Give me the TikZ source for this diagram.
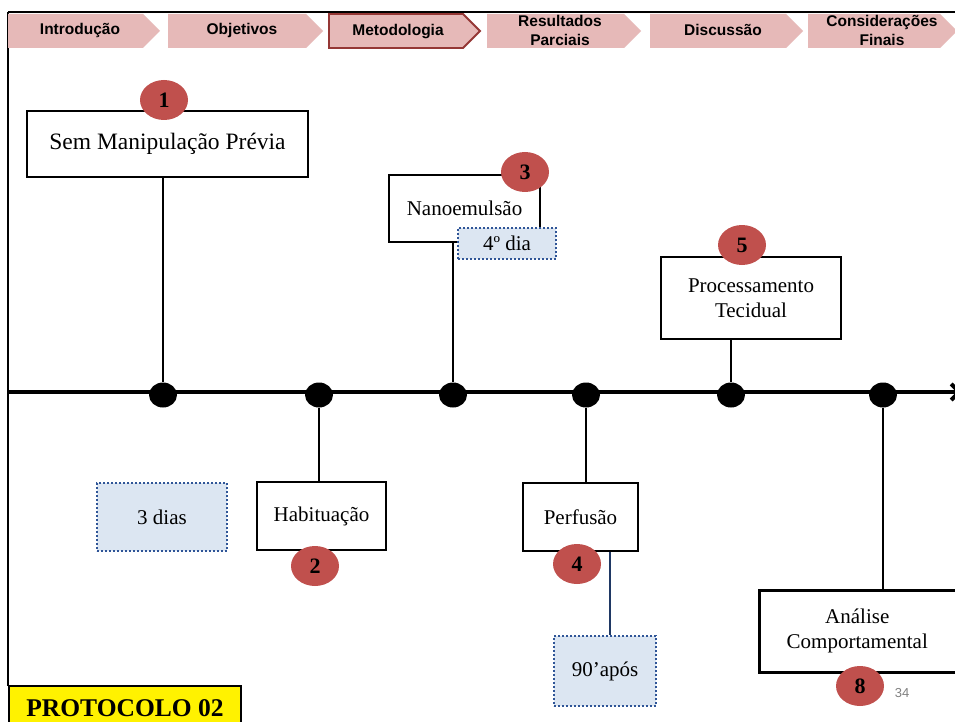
\documentclass[tikz,border=0pt]{standalone}
\usepackage{fontspec}
\setmainfont{Liberation Serif}
\newfontfamily\tabfont{Liberation Sans}
\usetikzlibrary{arrows.meta,shapes.geometric}
\definecolor{tabpink}{HTML}{E6B9B8}
\definecolor{tabred}{HTML}{953735}
\definecolor{badgered}{HTML}{C0504D}
\definecolor{dotfill}{HTML}{DCE6F2}
\definecolor{dotline}{HTML}{2F5597}
\definecolor{navy}{HTML}{1F3864}
\tikzset{
  tabtext/.style={font=\tabfont\bfseries\fontsize{15.5}{19}\selectfont, align=center, text=black},
  stepbox/.style={draw=black, line width=2.5pt, fill=white, inner sep=0pt, align=center, font=\fontsize{21}{25}\selectfont},
  dotbox/.style={draw=dotline, line width=2.5pt, dash pattern=on 2pt off 2pt, fill=dotfill, inner sep=0pt, align=center, font=\fontsize{21}{25}\selectfont},
  badge/.style={ellipse, fill=badgered, minimum width=48pt, minimum height=40pt, inner sep=0pt, font=\bfseries\fontsize{22}{24}\selectfont},
  tdot/.style={ellipse, fill=black, minimum width=28pt, minimum height=25pt, inner sep=0pt},
  link/.style={draw=black, line width=2.5pt},
}
\begin{document}
\begin{tikzpicture}[x=1pt, y=-1pt]
\useasboundingbox (0,0) rectangle (955,722);
\fill[white] (0,0) rectangle (955,722);
% frame lines
\draw[line width=2.5pt] (8,12) -- (960,12);
\draw[line width=2.5pt] (8,12) -- (8,686);
% tabs
\foreach \l/\r in {8/160, 168/323, 487/641, 650/803, 808/957}{
  \fill[tabpink] (\l,14) -- (\r-17,14) -- (\r,31) -- (\r-17,48) -- (\l,48) -- cycle;
}
\draw[tabred, line width=1.8pt, fill=tabpink] (329,14) -- (463,14) -- (480,31) -- (463,48) -- (329,48) -- cycle;
\node[tabtext] (t1) at (80,30) {Introdução};
\node[tabtext] (t2) at (242,30) {Objetivos};
\node[tabtext, font=\tabfont\bfseries\fontsize{15.5}{19}\selectfont] (t3) at (398,31.5) {Metodologia};
\node[tabtext] (t4) at (560,30) {Resultados\\Parciais};
\node[tabtext] (t5) at (723,30) {Discussão};
\node[tabtext] (t6) at (882,30) {Considerações\\Finais};
% axis
\coordinate (axs) at (8,392);
\coordinate (axe) at (962,392);
\draw[line width=4pt, -{Straight Barb[length=8pt,width=16pt]}] (axs) -- (axe);
% dots
\node[tdot] (d1) at (163,395) {};
\node[tdot] (d2) at (319,395) {};
\node[tdot] (d3) at (453,395) {};
\node[tdot] (d4) at (586,395) {};
\node[tdot] (d5) at (731,395) {};
\node[tdot] (d6) at (883,395) {};
% boxes
\node[stepbox, minimum width=281pt, minimum height=66pt, font=\fontsize{23.5}{26}\selectfont] (b1) at (167.5,144) {Sem Manipulação Prévia};
\node[stepbox, minimum width=151pt, minimum height=67pt] (b3) at (464.5,208.5) {Nanoemulsão};
\node[stepbox, minimum width=180pt, minimum height=82pt] (b5) at (751,298) {Processamento\\Tecidual};
\node[stepbox, minimum width=129pt, minimum height=68pt] (b2) at (321.5,516) {Habituação};
\node[stepbox, minimum width=115pt, minimum height=68pt] (b4) at (580.5,517) {Perfusão};
\node[stepbox, minimum width=204pt, minimum height=82pt, anchor=north west] (b8) at (758,589) {\hspace*{-8pt}Análise\\\hspace*{-8pt}Comportamental};
% dotted boxes
\node[dotbox, minimum width=130pt, minimum height=68pt] (n1) at (162,517) {3 dias};
\node[dotbox, minimum width=98pt, minimum height=31pt] (n3) at (507,243.5) {4º dia};
\node[dotbox, minimum width=102pt, minimum height=70pt] (n4) at (605,671) {90’após};
% connectors
\draw[link] (b1.south -| d1) -- (d1);
\draw[link] (b3.south -| d3) -- (d3);
\draw[link] (b5.south -| d5) -- (d5);
\draw[link] (d2) -- (d2 |- b2.north);
\draw[link] (d4) -- (d4 |- b4.north);
\draw[link] (d6) -- (d6 |- b8.north);
\draw[draw=navy, line width=2.5pt] (b4.south -| 610,0) -- (n4.north -| 610,0);
% badges
\node[badge] (c1) at (164,100) {1};
\node[badge] (c3) at (525,172) {3};
\node[badge] (c5) at (742,245) {5};
\node[badge] (c2) at (315,566) {2};
\node[badge] (c4) at (577,564) {4};
\node[badge] (c8) at (860,686) {8};
% page number
\node[font=\tabfont\fontsize{13}{15}\selectfont, text=gray] (pg) at (902,693) {34};
% protocolo
\node[draw=black, line width=2pt, fill=yellow, anchor=north west, minimum width=232pt, minimum height=45pt, inner sep=0pt, font=\bfseries\fontsize{25.5}{28}\selectfont] (prot) at (8,685) {PROTOCOLO 02};
\end{tikzpicture}
\end{document}
